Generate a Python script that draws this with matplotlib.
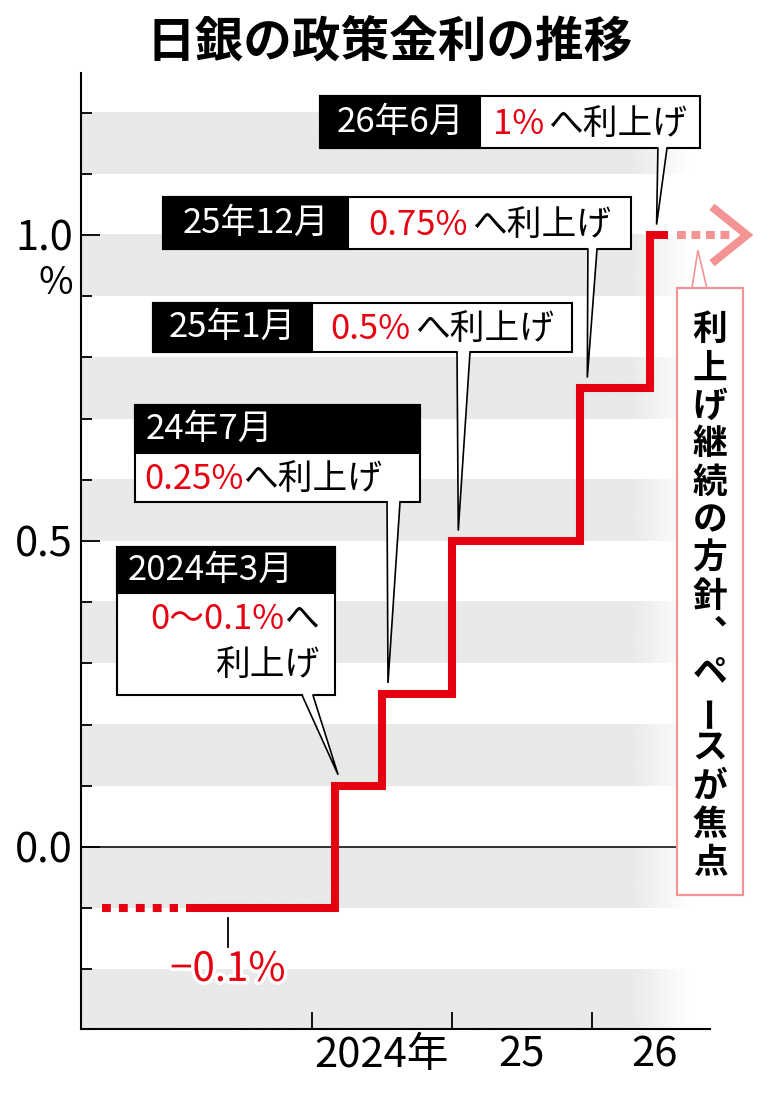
import matplotlib
matplotlib.use('Agg')
import matplotlib.pyplot as plt
import matplotlib.patheffects as pe
import numpy as np
from matplotlib.patches import Rectangle, Polygon
from matplotlib.offsetbox import TextArea, HPacker, AnnotationBbox

plt.rcParams['font.family'] = ['Noto Sans CJK JP', 'DejaVu Sans']

RED = '#e50012'
PINK = '#f39393'
GRAY = '#e9e9e9'

# data: BOJ policy rate changes (year, month, new rate in %)
hike_years = [2024, 2024, 2025, 2025, 2026]
hike_months = [3, 7, 1, 12, 6]
hike_rates = [0.1, 0.25, 0.5, 0.75, 1.0]
start_rate = -0.1
dotted_start = 2022.5
solid_start = 2023.1
line_end = 2026.54
outlook_end = 2027.0

head_labels = ['2024年3月', '24年7月', '25年1月', '25年12月', '26年6月']
rate_labels = ['0～0.1%', '0.25%', '0.5%', '0.75%', '1%']
verb_label = 'へ利上げ'
note_label = '利上げ継続の方針、ペースが焦点'
neg_label = '−0.1%'

year_ticks = [2024, 2025, 2026]
year_label_pos = [2024.5, 2025.5, 2026.45]
year_labels = ['2024年', '25', '26']
y_ticks = [0.0, 0.5, 1.0]
y_labels = ['0.0', '0.5', '1.0']

hike_dates = [y + (m - 1) / 12 for y, m in zip(hike_years, hike_months)]

BOX_FS = 25

# callout box layout (data units): x0, xsplit, x1, ytop, ybot, pointer base x0/x1, tip dx
one_row = {
    2: (2022.864, 2024.0, 2025.857, 0.889, 0.809, 2025.036, 2025.129, 0.045),
    3: (2022.936, 2024.257, 2026.279, 1.062, 0.977, 2025.971, 2026.036, 0.05),
    4: (2024.057, 2025.2, 2026.771, 1.227, 1.142, 2026.471, 2026.536, 0.045),
}

fig = plt.figure(figsize=(7.72, 10.96), dpi=100)
ax = fig.add_axes([81 / 772, 67 / 1096, 691 / 772, 956 / 1096])
xlim = (2022.35, 2027.286)
ylim = (-0.2974, 1.2647)

# striped background fading out on the right
fade_from, fade_to = 2026.27, 2026.7
xs = np.linspace(xlim[0], fade_to, 400)
alpha = np.clip((fade_to - xs) / (fade_to - fade_from), 0, 1)
img = np.zeros((1, len(xs), 4))
img[..., :3] = matplotlib.colors.to_rgb(GRAY)
img[0, :, 3] = alpha
for lo in np.arange(-0.3, 1.2, 0.2):
    ax.imshow(img, extent=[xlim[0], fade_to, lo, lo + 0.1], aspect='auto',
              interpolation='bilinear', zorder=0)

ax.plot([xlim[0], 2026.6], [0, 0], color='black', lw=1.1, zorder=1)

# rate line
step_x = [solid_start] + hike_dates + [line_end]
step_y = [start_rate] + hike_rates + [hike_rates[-1]]
ax.step(step_x, step_y, where='post', color=RED, lw=5.8, zorder=3,
        solid_joinstyle='miter', solid_capstyle='butt')
ax.plot([dotted_start, solid_start - 0.06], [start_rate, start_rate], color=RED,
        lw=5.8, dashes=(1.1, 1.0), dash_capstyle='butt', zorder=3)

# outlook arrow
ax.plot([line_end + 0.07, outlook_end], [hike_rates[-1]] * 2, color=PINK, lw=5.8,
        dashes=(1.1, 0.7), dash_capstyle='butt', zorder=3)
tip = outlook_end + 0.107
ax.plot([tip - 0.25, tip, tip - 0.25],
        [hike_rates[-1] + 0.046, hike_rates[-1], hike_rates[-1] - 0.046],
        color=PINK, lw=5.8, solid_joinstyle='miter', solid_capstyle='butt', zorder=3)

# -0.1% label
ax.plot([2023.4, 2023.4], [-0.116, -0.163], color='black', lw=1.3, zorder=2)
ax.text(2023.4, -0.2, neg_label, color=RED, fontsize=29, ha='center', va='center',
        zorder=4, path_effects=[pe.withStroke(linewidth=5, foreground='white')])


def rich_text(x, y, pieces, size, align=(0.5, 0.5), sep=2):
    areas = [TextArea(t, textprops=dict(color=c, fontsize=size)) for t, c in pieces]
    pack = HPacker(children=areas, align='baseline', pad=0, sep=sep)
    ab = AnnotationBbox(pack, (x, y), xycoords='data', frameon=False,
                        box_alignment=align, pad=0, zorder=7)
    ax.add_artist(ab)


def pointer(bx0, bx1, ybot, tx, ty, edge='black'):
    ax.add_patch(Polygon([(bx0, ybot + 0.004), (tx, ty), (bx1, ybot + 0.004)],
                         closed=True, facecolor='white', edgecolor='none', zorder=6))
    ax.plot([bx0, tx, bx1], [ybot, ty, ybot], color=edge, lw=1.2, zorder=6,
            solid_joinstyle='miter')


# one row callouts
for i, (x0, xs_, x1, yt, yb, b0, b1, dx) in one_row.items():
    ax.add_patch(Rectangle((x0, yb), x1 - x0, yt - yb, facecolor='white',
                           edgecolor='black', lw=1.5, zorder=5))
    ax.add_patch(Rectangle((x0, yb), xs_ - x0, yt - yb, facecolor='black',
                           edgecolor='black', lw=1.5, zorder=5))
    pointer(b0, b1, yb, hike_dates[i] + dx, hike_rates[i] + 0.017)
    ax.text((x0 + xs_) / 2, (yt + yb) / 2, head_labels[i], color='white', fontsize=BOX_FS,
            ha='center', va='center', zorder=7)
    rich_text((xs_ + x1) / 2, (yt + yb) / 2 - 0.004,
              [(rate_labels[i], RED), (verb_label, 'black')], BOX_FS, sep=3)

# 24年7月 callout
x0, x1, yt, ysp, yb = 2022.736, 2024.771, 0.722, 0.644, 0.564
ax.add_patch(Rectangle((x0, yb), x1 - x0, yt - yb, facecolor='white',
                       edgecolor='black', lw=1.5, zorder=5))
ax.add_patch(Rectangle((x0, ysp), x1 - x0, yt - ysp, facecolor='black',
                       edgecolor='black', lw=1.5, zorder=5))
pointer(2024.536, 2024.629, yb, hike_dates[1] + 0.043, hike_rates[1] + 0.018)
ax.text(2022.81, (yt + ysp) / 2, head_labels[1], color='white', fontsize=BOX_FS,
        ha='left', va='center', zorder=7)
rich_text(2022.8, (ysp + yb) / 2 - 0.004, [(rate_labels[1], RED), (verb_label, 'black')],
          BOX_FS, align=(0, 0.5), sep=0)

# 2024年3月 callout
x0, x1, yt, ysp, yb = 2022.607, 2024.164, 0.490, 0.415, 0.248
ax.add_patch(Rectangle((x0, yb), x1 - x0, yt - yb, facecolor='white',
                       edgecolor='black', lw=1.5, zorder=5))
ax.add_patch(Rectangle((x0, ysp), x1 - x0, yt - ysp, facecolor='black',
                       edgecolor='black', lw=1.5, zorder=5))
pointer(2023.929, 2024.007, yb, hike_dates[0] + 0.02, hike_rates[0] + 0.018)
ax.text(2022.68, (yt + ysp) / 2, head_labels[0], color='white', fontsize=BOX_FS,
        ha='left', va='center', zorder=7)
rich_text(2024.05, 0.371, [(rate_labels[0], RED), (verb_label[0], 'black')], BOX_FS,
          align=(1, 0.5), sep=0)
ax.text(2024.05, 0.297, verb_label[1:], color='black', fontsize=BOX_FS,
        ha='right', va='center', zorder=7)

# outlook note box (vertical text)
nx0, nx1, nyt, nyb = 2026.607, 2027.079, 0.913, -0.078
ax.add_patch(Rectangle((nx0, nyb), nx1 - nx0, nyt - nyb, facecolor='white',
                       edgecolor=PINK, lw=1.6, zorder=5))
pointer(2026.714, 2026.821, nyt, 2026.757, 0.975, edge=PINK)
cx = (nx0 + nx1) / 2
pitch = (0.876 + 0.056) / len(note_label)
for k, ch in enumerate(note_label):
    cy = 0.876 - pitch * (k + 0.5)
    if ch == 'ー':
        ax.text(cx, cy, ch, fontsize=25, weight='bold', rotation=90,
                ha='center', va='center', zorder=7)
    elif ch == '、':
        # vertical presentation form of the ideographic comma
        ax.text(cx, cy, '\ufe11', fontsize=25, weight='bold',
                ha='center', va='center', zorder=7)
    else:
        ax.text(cx, cy, ch, fontsize=25, weight='bold', ha='center', va='center', zorder=7)

# axes
ax.set_xlim(xlim)
ax.set_ylim(ylim)
for s in ['top', 'right']:
    ax.spines[s].set_visible(False)
ax.spines['left'].set_linewidth(1.5)
ax.spines['bottom'].set_linewidth(1.5)
ax.spines['bottom'].set_bounds(xlim[0], 2026.84)

ax.set_yticks(y_ticks)
ax.set_yticklabels(y_labels, fontsize=30)
ax.set_yticks(np.arange(-0.2, 1.25, 0.1), minor=True)
ax.tick_params(axis='y', which='major', direction='in', length=14, width=1.3, pad=6)
ax.tick_params(axis='y', which='minor', direction='in', length=8, width=1.3)
ax.annotate('%', xy=(0, 0.92), xycoords=ax.get_yaxis_transform(), xytext=(-6, 0),
            textcoords='offset points', ha='right', va='center', fontsize=27)

ax.set_xticks(year_ticks)
ax.set_xticklabels([])
ax.set_xticks(year_label_pos, minor=True)
ax.set_xticklabels(year_labels, minor=True, fontsize=30)
ax.tick_params(axis='x', which='major', direction='in', length=12, width=1.3)
ax.tick_params(axis='x', which='minor', length=0, pad=4)

fig.text(390 / 772, 1 - 42 / 1096, '日銀の政策金利の推移', fontsize=35, weight='bold',
         ha='center', va='center')

fig.savefig('out.png', dpi=100)
